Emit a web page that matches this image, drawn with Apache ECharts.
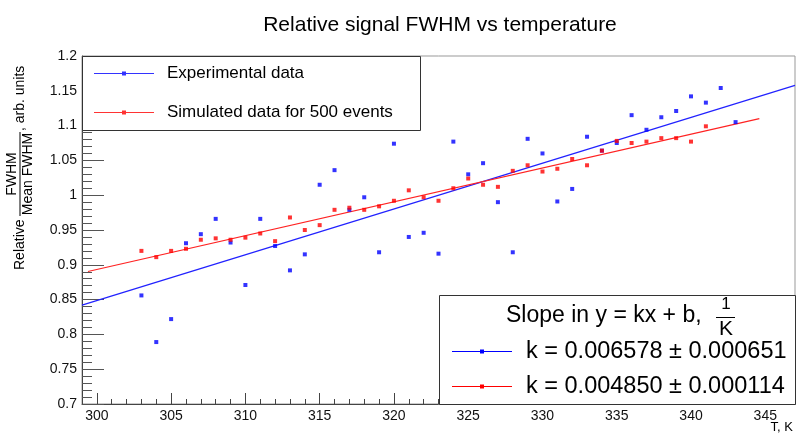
<!DOCTYPE html>
<html>
<head>
<meta charset="utf-8">
<script src="https://cdn.jsdelivr.net/npm/echarts@6/dist/echarts.min.js"></script>
<style>
  html, body { margin: 0; padding: 0; background: #fff; }
  #chart { width: 796px; height: 433px; }
</style>
</head>
<body>
<div id="chart"></div>
<script>
// experimental points (T in K, relative FWHM)
const expTemps = [303, 304, 305, 306, 307, 308, 309, 310, 311, 312, 313, 314, 315, 316, 317, 318, 319, 320, 321, 322,
  323, 324, 325, 326, 327, 328, 329, 330, 331, 332, 333, 334, 335, 336, 337, 338, 339, 340, 341, 342, 343]
const expValues = [0.856, 0.789, 0.822, 0.931, 0.944, 0.966, 0.932, 0.871, 0.966, 0.927, 0.892, 0.915, 1.015, 1.036,
  0.979, 0.997, 0.918, 1.074, 0.940, 0.946, 0.916, 1.077, 1.030, 1.046, 0.990, 0.918, 1.081, 1.060, 0.991, 1.009,
  1.084, 1.064, 1.075, 1.115, 1.094, 1.112, 1.121, 1.142, 1.133, 1.154, 1.105]

// simulated points
const simTemps = [303, 304, 305, 306, 307, 308, 309, 310, 311, 312, 313, 314, 315, 316, 317, 318, 319, 320, 321, 322,
  323, 324, 325, 326, 327, 328, 329, 330, 331, 332, 333, 334, 335, 336, 337, 338, 339, 340, 341]
const simValues = [0.920, 0.911, 0.920, 0.923, 0.936, 0.938, 0.936, 0.939, 0.945, 0.934, 0.968, 0.950, 0.957, 0.979,
  0.982, 0.979, 0.984, 0.992, 1.007, 0.997, 0.992, 1.010, 1.024, 1.015, 1.012, 1.035, 1.043, 1.034, 1.038, 1.052,
  1.043, 1.064, 1.078, 1.075, 1.077, 1.082, 1.082, 1.077, 1.099]

// fit line end points
const expFit = [[299, 0.8421], [347, 1.1578]]
const simFit = [[299.4, 0.8904], [344.6, 1.1101]]

const seriesNames = ['Experimental data', 'Simulated data for 500 events']
const fitNames = ['k = 0.006578 \u00b1 0.000651', 'k = 0.004850 \u00b1 0.000114']

const xMajorTicks = [300, 305, 310, 315, 320, 325, 330, 335, 340, 345]
const xRange = [299, 347]
const yRange = [0.7, 1.2]

const FONT = '"Liberation Sans", Arial, Helvetica, sans-serif'
const legendIcon = 'path://M0,1.5h60v1h-60zM28,0h4v4h-4z'

function zip(xs, ys) {
  return xs.map((x, i) => [x, ys[i]])
}

function txt(text, x, y, size, align, extra) {
  return Object.assign({
    type: 'text',
    x,
    y,
    style: { text, fontSize: size, fontFamily: FONT, fill: '#000', align, verticalAlign: 'middle' },
  }, extra || {})
}

const chart = echarts.init(document.getElementById('chart'), null, { renderer: 'canvas' })

const option = {
  animation: false,
  textStyle: { fontFamily: FONT },
  grid: {
    left: 82,
    right: 1,
    top: 56,
    bottom: 29,
    show: true,
    borderColor: '#999',
    borderWidth: 1,
    outerBoundsMode: 'none',
  },
  xAxis: [
    {
      type: 'value',
      min: xRange[0],
      max: xRange[1],
      interval: 1,
      axisLine: { lineStyle: { color: '#444', width: 1 } },
      axisTick: { inside: true, length: 5, lineStyle: { color: '#444' } },
      axisLabel: {
        color: '#111',
        fontSize: 14,
        margin: 5,
        formatter: v => (v % 5 === 0 && v >= 300 && v <= 345 ? String(v) : ''),
      },
      splitLine: { show: false },
    },
    {
      type: 'value',
      min: xRange[0],
      max: xRange[1],
      position: 'bottom',
      axisLine: { show: false },
      axisTick: { inside: true, length: 11, customValues: xMajorTicks, lineStyle: { color: '#444' } },
      axisLabel: { show: false },
      splitLine: { show: false },
    },
  ],
  yAxis: {
    type: 'value',
    min: yRange[0],
    max: yRange[1],
    interval: 0.05,
    axisLine: { show: true, lineStyle: { color: '#444', width: 1 } },
    axisTick: { show: true, inside: true, length: 22, lineStyle: { color: '#555' } },
    minorTick: { show: true, splitNumber: 5, length: 10, lineStyle: { color: '#555' } },
    axisLabel: { color: '#111', fontSize: 14, margin: 5 },
    splitLine: { show: false },
  },
  legend: [
    {
      data: seriesNames,
      orient: 'vertical',
      left: 94,
      top: 63,
      padding: 0,
      itemWidth: 60,
      itemHeight: 4,
      itemGap: 18,
      icon: legendIcon,
      itemStyle: { borderWidth: 0 },
      selectedMode: false,
      textStyle: { fontSize: 17, lineHeight: 21, color: '#000', padding: [0, 0, 0, 8], fontFamily: FONT },
    },
    {
      data: fitNames,
      orient: 'vertical',
      left: 452,
      top: 339,
      padding: 0,
      itemWidth: 62,
      itemHeight: 4,
      itemGap: 10,
      icon: legendIcon,
      itemStyle: { borderWidth: 0 },
      selectedMode: false,
      textStyle: { fontSize: 23.5, lineHeight: 25, color: '#000', padding: [0, 0, 0, 8], fontFamily: FONT },
    },
  ],
  graphic: [
    // title
    txt('Relative signal FWHM vs temperature', 440, 25, 21, 'center'),
    // y axis title, rotated
    {
      type: 'group',
      x: 20,
      y: 270,
      rotation: Math.PI / 2,
      children: [
        txt('Relative', 0, 0, 14, 'left'),
        txt('FWHM', 96, -8, 14, 'center'),
        { type: 'line', shape: { x1: 54, y1: 0, x2: 138, y2: 0 }, style: { stroke: '#000', lineWidth: 1 } },
        txt('Mean FWHM', 96, 8, 14, 'center'),
        txt(', arb. units', 139, 0, 14, 'left'),
      ],
    },
    // x axis title
    txt('T, K', 793, 427, 13, 'right'),
    // legend boxes
    {
      type: 'rect',
      shape: { x: 82.5, y: 56.5, width: 338, height: 74 },
      style: { fill: '#fff', stroke: '#333', lineWidth: 1 },
      z: 3,
    },
    {
      type: 'rect',
      shape: { x: 439.5, y: 295.5, width: 356, height: 109 },
      style: { fill: '#fff', stroke: '#333', lineWidth: 1 },
      z: 3,
    },
    // header of the fit legend
    txt('Slope in y = kx + b,', 506, 316, 23, 'left', { z: 4 }),
    txt('1', 726, 304, 17, 'center', { z: 4 }),
    {
      type: 'line',
      z: 4,
      shape: { x1: 716, y1: 317.5, x2: 735, y2: 317.5 },
      style: { stroke: '#000', lineWidth: 1 },
    },
    txt('K', 726, 329, 21, 'center', { z: 4 }),
  ],
  series: [
    {
      name: seriesNames[0],
      type: 'scatter',
      symbol: 'rect',
      symbolSize: 4,
      itemStyle: { color: '#0000ff' },
      data: zip(expTemps, expValues),
      z: 3,
    },
    {
      name: seriesNames[1],
      type: 'scatter',
      symbol: 'rect',
      symbolSize: 4,
      itemStyle: { color: '#ff0000' },
      data: zip(simTemps, simValues),
      z: 3,
    },
    {
      name: fitNames[0],
      type: 'line',
      showSymbol: false,
      symbol: 'rect',
      color: '#0000ff',
      lineStyle: { color: '#2222ff', width: 1.2 },
      data: expFit,
    },
    {
      name: fitNames[1],
      type: 'line',
      showSymbol: false,
      symbol: 'rect',
      color: '#ff0000',
      lineStyle: { color: '#ff2222', width: 1.2 },
      data: simFit,
    },
  ],
}

chart.setOption(option)
</script>
</body>
</html>
